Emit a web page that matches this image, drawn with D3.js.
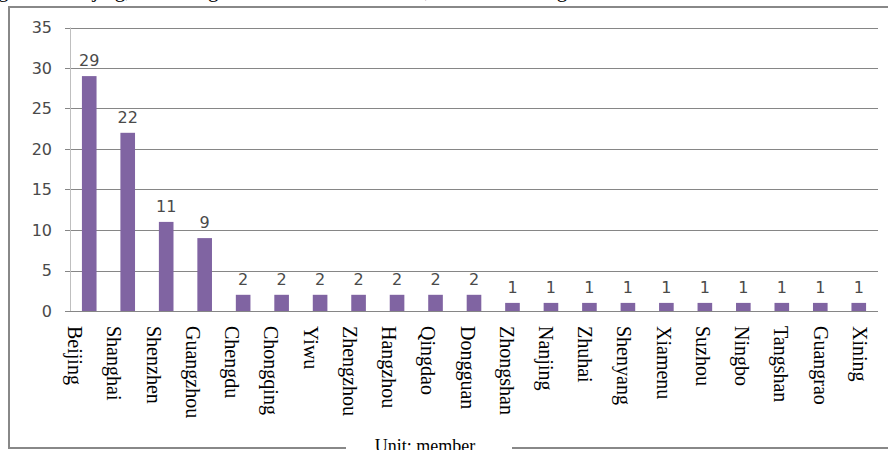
<!DOCTYPE html>
<html>
<head>
<meta charset="utf-8">
<title>Members by city</title>
<script src="https://cdn.jsdelivr.net/npm/d3@7"></script>
<style>
  body { margin: 0; background: #fff; }
  .bar { fill: #8064A2; }
  .grid line { stroke: #868686; stroke-width: 1; }
  .yaxis text { font-family: "DejaVu Sans", sans-serif; font-size: 16px; fill: #4a4a4a; }
  .xaxis text { font-family: "Liberation Serif", "Times New Roman", serif; font-size: 20px; fill: #000; }
  .val { font-family: "DejaVu Sans", sans-serif; font-size: 16px; fill: #4a4a4a; }
</style>
</head>
<body>
<script>
// data
var cities = ["Beijing", "Shanghai", "Shenzhen", "Guangzhou", "Chengdu", "Chongqing", "Yiwu",
  "Zhengzhou", "Hangzhou", "Qingdao", "Dongguan", "Zhongshan", "Nanjing", "Zhuhai", "Shenyang",
  "Xiamenu", "Suzhou", "Ningbo", "Tangshan", "Guangrao", "Xining"];
var members = [29, 22, 11, 9, 2, 2, 2, 2, 2, 2, 2, 1, 1, 1, 1, 1, 1, 1, 1, 1, 1];
var yTicks = [0, 5, 10, 15, 20, 25, 30, 35];
var unitLabel = "Unit: member";

var W = 888, H = 450;
var plot = { left: 70, right: 878, top: 27.5, bottom: 311 };

var svg = d3.select("body").append("svg")
  .attr("width", W)
  .attr("height", H);

// cut-off line of the surrounding text at the very top
svg.append("text")
  .attr("x", -2)
  .attr("y", -3)
  .attr("font-family", "Liberation Serif, serif")
  .attr("font-size", 21)
  .attr("fill", "#000")
  .text("gion of Beijing, according to the statistics of CCSs, as shown in Figure 3.");

// outer frame (bottom edge broken by the unit label)
var frame = svg.append("g").attr("stroke", "#888").attr("stroke-width", 2).attr("fill", "none");
frame.append("path").attr("d", "M346,448 H9 V7 H890");
frame.append("path").attr("d", "M512,448 H890");

svg.append("text")
  .attr("x", 425)
  .attr("y", 452)
  .attr("text-anchor", "middle")
  .attr("font-family", "Liberation Serif, serif")
  .attr("font-size", 18)
  .attr("fill", "#000")
  .text(unitLabel);

// scales
var x = d3.scaleBand()
  .domain(cities)
  .range([plot.left, plot.right])
  .paddingInner(0.62)
  .paddingOuter(0.31);

// labels in the source sit on a slightly wider spacing than the bars
var xLab = d3.scaleBand()
  .domain(cities)
  .range([55, 879]);

var y = d3.scaleLinear()
  .domain([0, 35])
  .range([plot.bottom, plot.top]);

// gridlines
svg.append("g")
  .attr("class", "grid")
  .selectAll("line")
  .data(yTicks)
  .enter().append("line")
  .attr("x1", plot.left - 5)
  .attr("x2", plot.right)
  .attr("y1", function(d) { return Math.round(y(d)) + 0.5; })
  .attr("y2", function(d) { return Math.round(y(d)) + 0.5; });

// y axis
var yAxis = svg.append("g")
  .attr("class", "yaxis")
  .attr("transform", "translate(" + plot.left + ",0)")
  .call(d3.axisLeft(y).tickValues(yTicks).tickSize(0).tickPadding(18));
yAxis.select(".domain").remove();
yAxis.selectAll("text").attr("font-family", null).attr("font-size", null).attr("fill", null);

svg.append("line")
  .attr("x1", plot.left + 0.5).attr("x2", plot.left + 0.5)
  .attr("y1", plot.top).attr("y2", plot.bottom)
  .attr("stroke", "#BFBFBF");

// bars
svg.selectAll(".bar")
  .data(members)
  .enter().append("rect")
  .attr("class", "bar")
  .attr("x", function(d, i) { return x(cities[i]); })
  .attr("width", x.bandwidth())
  .attr("y", function(d) { return y(d); })
  .attr("height", function(d) { return y(0) - y(d); });

// value labels
svg.selectAll(".val")
  .data(members)
  .enter().append("text")
  .attr("class", "val")
  .attr("text-anchor", "middle")
  .attr("x", function(d, i) { return x(cities[i]) + x.bandwidth() / 2; })
  .attr("y", function(d) { return y(d) - 10; })
  .text(function(d) { return d; });

// category labels, rotated to read top-to-bottom
var xAxis = svg.append("g")
  .attr("class", "xaxis")
  .attr("transform", "translate(0," + (plot.bottom + 15) + ")")
  .call(d3.axisBottom(xLab).tickSize(0).tickPadding(0));
xAxis.select(".domain").remove();
xAxis.selectAll("text")
  .attr("font-family", null).attr("font-size", null).attr("fill", null)
  .attr("text-anchor", "start")
  .attr("dy", null)
  .attr("y", 0)
  .attr("transform", "translate(-6.5,0) rotate(90)");
</script>
</body>
</html>
